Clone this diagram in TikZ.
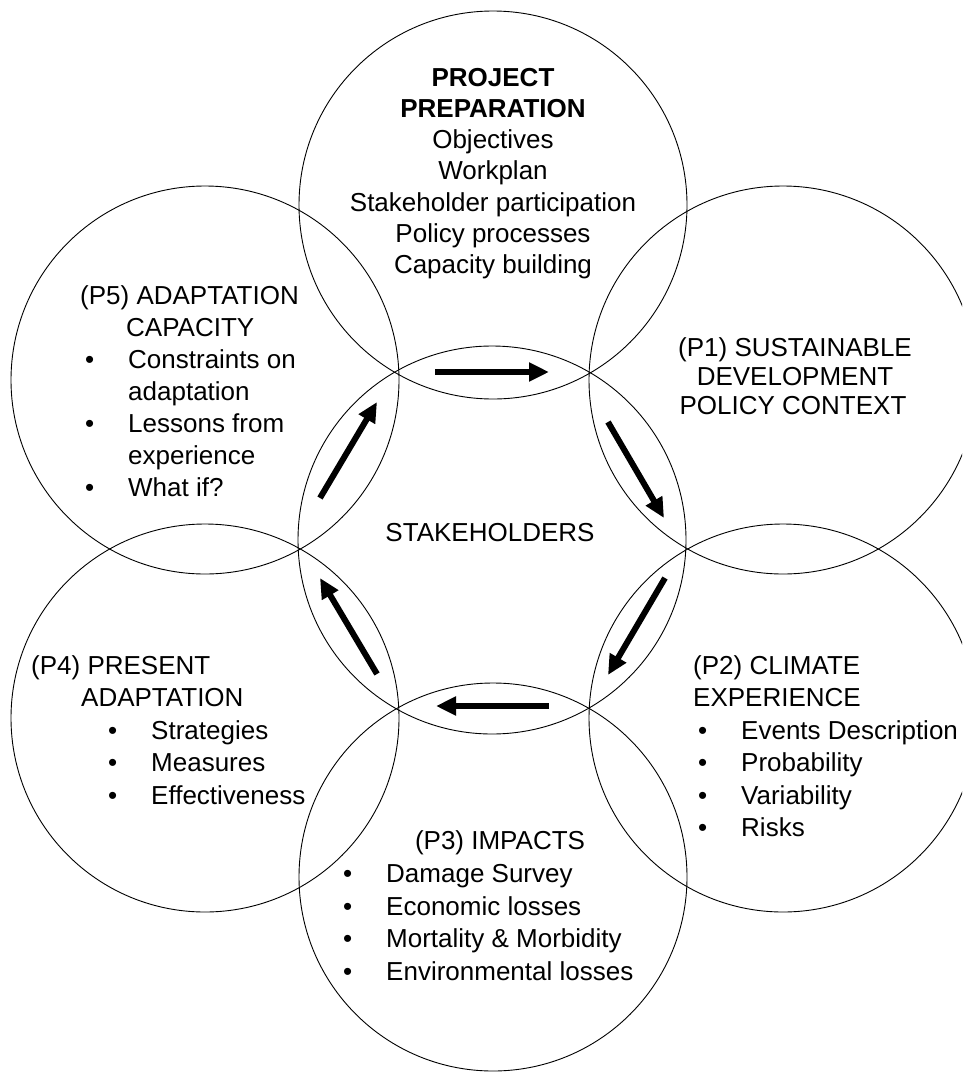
\documentclass[tikz,border=0pt]{standalone}
\usepackage{fontspec}
\setmainfont{Liberation Sans}
\usetikzlibrary{arrows.meta}
\begin{document}
\begin{tikzpicture}[x=1pt,y=-1pt,
  ring/.style={draw=black, line width=0.9pt, circle, minimum size=388pt, inner sep=0pt},
  txt/.style={inner sep=0pt, anchor=base west, font=\fontsize{26}{32}\selectfont},
  ctxt/.style={inner sep=0pt, anchor=base, font=\fontsize{26}{32}\selectfont},
  btxt/.style={ctxt, font=\fontsize{26}{32}\selectfont\bfseries},
  flow/.style={line width=6pt, -{Triangle[length=20pt,width=18pt]}}]
\fill[white] (0,0) rectangle (962,1074);
\useasboundingbox (0,0) rectangle (962,1074);
\begin{scope}
\clip (0,0) rectangle (962,1074);
% the six outer phases and the central stakeholder circle
\node[ring] (prep) at (493,205) {};
\node[ring] (pone) at (783,380) {};
\node[ring] (ptwo) at (783,718) {};
\node[ring] (pthree) at (493,877) {};
\node[ring] (pfour) at (205,718) {};
\node[ring] (pfive) at (205,380) {};
\node[ring] (stake) at (492,540) {};
\end{scope}

% project preparation
\node[btxt] (prepA) at (493,86) {PROJECT};
\node[btxt] (prepB) at (493,117) {PREPARATION};
\node[ctxt] (prepC) at (493,148) {Objectives};
\node[ctxt] (prepD) at (493,179) {Workplan};
\node[ctxt] (prepE) at (493,211) {Stakeholder participation};
\node[ctxt] (prepF) at (493,242) {Policy processes};
\node[ctxt] (prepG) at (493,273) {Capacity building};

% P1
\node[ctxt] (poneA) at (795,356) {(P1) SUSTAINABLE};
\node[ctxt] (poneB) at (795,385) {DEVELOPMENT};
\node[ctxt] (poneC) at (793,414) {POLICY CONTEXT};

% P2
\node[txt] (ptwoA) at (693,674) {(P2) CLIMATE};
\node[txt] (ptwoB) at (693,706) {EXPERIENCE};
\node[txt] (ptwoC) at (698,739) {\textbullet};
\node[txt] (ptwoD) at (741,739) {Events Description};
\node[txt] (ptwoE) at (698,771) {\textbullet};
\node[txt] (ptwoF) at (741,771) {Probability};
\node[txt] (ptwoG) at (698,804) {\textbullet};
\node[txt] (ptwoH) at (741,804) {Variability};
\node[txt] (ptwoI) at (698,836) {\textbullet};
\node[txt] (ptwoJ) at (741,836) {Risks};

% P3
\node[ctxt] (pthreeA) at (500,849) {(P3) IMPACTS};
\node[txt] (pthreeB) at (343,882) {\textbullet};
\node[txt] (pthreeC) at (386,882) {Damage Survey};
\node[txt] (pthreeD) at (343,915) {\textbullet};
\node[txt] (pthreeE) at (386,915) {Economic losses};
\node[txt] (pthreeF) at (343,947) {\textbullet};
\node[txt] (pthreeG) at (386,947) {Mortality \& Morbidity};
\node[txt] (pthreeH) at (343,980) {\textbullet};
\node[txt] (pthreeI) at (386,980) {Environmental losses};

% P4
\node[txt] (pfourA) at (31,674) {(P4) PRESENT};
\node[txt] (pfourB) at (81,706) {ADAPTATION};
\node[txt] (pfourC) at (108,739) {\textbullet};
\node[txt] (pfourD) at (151,739) {Strategies};
\node[txt] (pfourE) at (108,771) {\textbullet};
\node[txt] (pfourF) at (151,771) {Measures};
\node[txt] (pfourG) at (108,804) {\textbullet};
\node[txt] (pfourH) at (151,804) {Effectiveness};

% P5
\node[txt] (pfiveA) at (80,304) {(P5) ADAPTATION};
\node[txt] (pfiveB) at (126,336) {CAPACITY};
\node[txt] (pfiveC) at (85,368) {\textbullet};
\node[txt] (pfiveD) at (128,368) {Constraints on};
\node[txt] (pfiveE) at (128,400) {adaptation};
\node[txt] (pfiveF) at (85,432) {\textbullet};
\node[txt] (pfiveG) at (128,432) {Lessons from};
\node[txt] (pfiveH) at (128,464) {experience};
\node[txt] (pfiveI) at (85,496) {\textbullet};
\node[txt] (pfiveJ) at (128,496) {What if?};

% centre
\node[ctxt] (stakeT) at (490,541) {STAKEHOLDERS};

% cycle arrows in the lenses around the centre
\coordinate (a1s) at (435,372); \coordinate (a1e) at (549,372);
\coordinate (a2s) at (608,422); \coordinate (a2e) at (664,518);
\coordinate (a3s) at (665,578); \coordinate (a3e) at (608,675);
\coordinate (a4s) at (549,706); \coordinate (a4e) at (436,706);
\coordinate (a5s) at (377,674); \coordinate (a5e) at (320,578);
\coordinate (a6s) at (320,498); \coordinate (a6e) at (377,402);
\draw[flow] (a1s) -- (a1e);
\draw[flow] (a2s) -- (a2e);
\draw[flow] (a3s) -- (a3e);
\draw[flow] (a4s) -- (a4e);
\draw[flow] (a5s) -- (a5e);
\draw[flow] (a6s) -- (a6e);
\end{tikzpicture}
\end{document}
